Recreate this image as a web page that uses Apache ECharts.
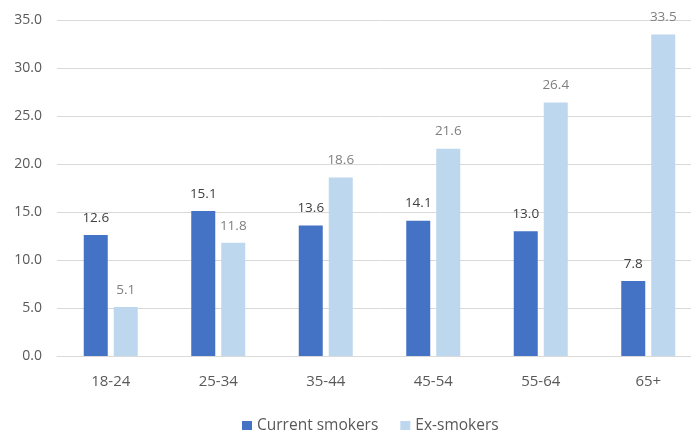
<!DOCTYPE html>
<html>
<head>
<meta charset="utf-8">
<script src="https://cdn.jsdelivr.net/npm/echarts@6/dist/echarts.min.js"></script>
<style>
  html, body { margin: 0; padding: 0; background: #fff; overflow: hidden; }
  #main { width: 702px; height: 430px; }
</style>
</head>
<body>
<div id="main"></div>
<script>
// chart data
const categories = ['18-24', '25-34', '35-44', '45-54', '55-64', '65+'];
const currentSmokers = [12.6, 15.1, 13.6, 14.1, 13.0, 7.8];
const exSmokers = [5.1, 11.8, 18.6, 21.6, 26.4, 33.5];

const fontFamily = '"Open Sans", "Noto Sans", sans-serif';

let chart = echarts.init(document.getElementById('main'));

let option = {
  animation: false,
  textStyle: { fontFamily: fontFamily },
  grid: {
    left: 57,
    right: 0,
    top: 20,
    bottom: 74
  },
  legend: {
    top: 413,
    left: 237,
    itemWidth: 10,
    itemHeight: 10,
    itemGap: 22,
    icon: 'rect',
    textStyle: { color: '#595959', fontSize: 15.5, fontFamily: fontFamily },
    data: ['Current smokers', 'Ex-smokers']
  },
  xAxis: {
    type: 'category',
    data: categories,
    axisTick: { show: false },
    axisLine: { lineStyle: { color: '#d9d9d9' } },
    axisLabel: { color: '#595959', fontSize: 15, margin: 18 }
  },
  yAxis: {
    type: 'value',
    min: 0,
    max: 35,
    interval: 5,
    axisLabel: {
      color: '#595959',
      fontSize: 14,
      margin: 15,
      formatter: v => v.toFixed(1)
    },
    splitLine: { lineStyle: { color: '#d9d9d9' } }
  },
  series: [
    {
      name: 'Current smokers',
      type: 'bar',
      data: currentSmokers,
      barWidth: 24,
      barGap: '25%',
      itemStyle: { color: '#4472c4' },
      label: {
        show: true,
        position: 'top',
        distance: 10,
        color: '#404040',
        fontSize: 13.5,
        formatter: p => p.value.toFixed(1)
      }
    },
    {
      name: 'Ex-smokers',
      type: 'bar',
      data: exSmokers,
      barWidth: 24,
      itemStyle: { color: '#bdd7ee' },
      label: {
        show: true,
        position: 'top',
        distance: 10,
        color: '#7f7f7f',
        fontSize: 13.5,
        formatter: p => p.value.toFixed(1)
      }
    }
  ]
};

chart.setOption(option);
</script>
</body>
</html>
